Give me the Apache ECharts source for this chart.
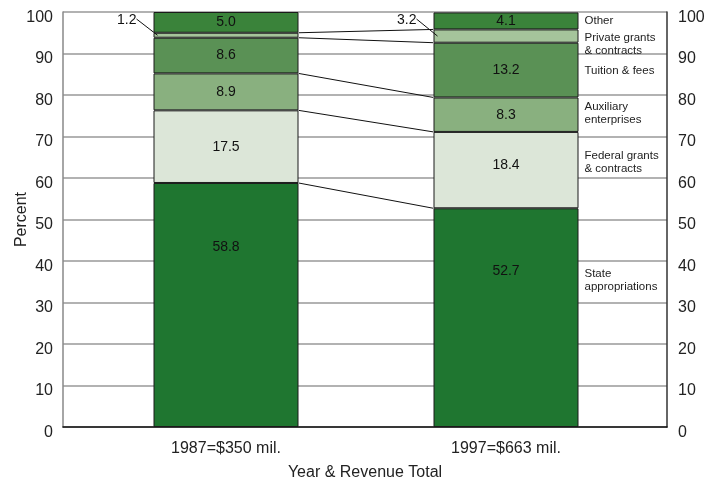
<!DOCTYPE html>
<html>
<head>
<meta charset="utf-8">
<script src="https://cdn.jsdelivr.net/npm/echarts@6/dist/echarts.min.js"></script>
<style>html,body{margin:0;padding:0;background:#fff}#c{width:704px;height:479px}</style>
</head>
<body>
<div id="c"></div>
<script>
const categories = ['1987=$350 mil.', '1997=$663 mil.'];
const seriesNames = ['State appropriations', 'Federal grants & contracts', 'Auxiliary enterprises', 'Tuition & fees', 'Private grants & contracts', 'Other'];
const stateAppropriations = [58.8, 52.7];
const federalGrants = [17.5, 18.4];
const auxiliaryEnterprises = [8.9, 8.3];
const tuitionFees = [8.6, 13.2];
const privateGrants = [1.2, 3.2];
const otherRevenue = [5.0, 4.1];
const sideLabels = ['State\nappropriations', 'Federal grants\n& contracts', 'Auxiliary\nenterprises', 'Tuition & fees', 'Private grants\n& contracts', 'Other'];
const yTickValues = [0, 10, 20, 30, 40, 50, 60, 70, 80, 90, 100];

const allSeries = [stateAppropriations, federalGrants, auxiliaryEnterprises, tuitionFees, privateGrants, otherRevenue];
const colors = ['#1f7630', '#dce6d8', '#89b07f', '#5a9155', '#a5c49b', '#3a833a'];
// layout: vertical anchors (percent scale) for right-hand labels
const sideLabelAnchor = [35.3, 63.8, 75.7, 85.8, 92.3, 97.9];
// layout: label anchors that are not at the segment middle  [series, category, level]
const labelAnchorOverride = [[0, 0, 43.4], [0, 1, 37.6], [1, 1, 63.0]];
const smallSeriesIndex = 4;

const FONT = "'Liberation Sans', Arial, sans-serif";
const BAR_W = 145;

const chart = echarts.init(document.getElementById('c'), null, {renderer: 'canvas'});

function makeSeries(offsets) {
  return allSeries.map((vals, i) => ({
    name: seriesNames[i],
    type: 'bar',
    xAxisIndex: 1,
    yAxisIndex: 2,
    stack: 'rev',
    barWidth: BAR_W,
    data: vals.map((v, ci) => {
      const off = offsets && offsets[i + '-' + ci];
      return off ? {value: v, label: {offset: [0, off]}} : v;
    }),
    itemStyle: {color: colors[i], borderColor: '#1a1a1a', borderWidth: 1},
    label: {
      show: i !== smallSeriesIndex,
      position: 'inside',
      formatter: p => p.value.toFixed(1),
      color: '#111',
      fontFamily: FONT,
      fontSize: 14
    },
    emphasis: {disabled: true},
    silent: true
  }));
}

const tickLabel = {fontFamily: FONT, fontSize: 16, color: '#222', verticalAlign: 'top',
  lineHeight: 11, formatter: v => yTickValues.includes(v) ? String(v) : ''};

chart.setOption({
  animation: false,
  backgroundColor: '#fff',
  grid: [
    {left: 63, right: 37, top: 12, bottom: 52, outerBoundsMode: 'none', containLabel: false},
    {left: 86, right: 58, top: 12, bottom: 52, outerBoundsMode: 'none', containLabel: false}
  ],
  xAxis: [
    {
      gridIndex: 0, type: 'value', min: 0, max: 1,
      axisLine: {show: true, lineStyle: {color: '#111', width: 1.5}},
      axisTick: {show: false}, axisLabel: {show: false}, splitLine: {show: false},
      name: 'Year & Revenue Total', nameLocation: 'middle', nameGap: 38, nameMoveOverlap: false,
      nameTextStyle: {fontFamily: FONT, fontSize: 16, color: '#222'}
    },
    {
      gridIndex: 1, type: 'category', data: categories,
      axisLine: {show: false}, axisTick: {show: false},
      axisLabel: {fontFamily: FONT, fontSize: 16, color: '#222', margin: 14}
    }
  ],
  yAxis: [
    {
      gridIndex: 0, type: 'value', min: 0, max: 100, interval: 10, position: 'left',
      axisLine: {show: true, lineStyle: {color: '#888', width: 1.5}},
      axisTick: {show: false},
      axisLabel: Object.assign({margin: 10}, tickLabel),
      splitLine: {show: true, lineStyle: {color: '#999', width: 1.5}},
      name: 'Percent', nameLocation: 'middle', nameGap: 33, nameRotate: 90, nameMoveOverlap: false,
      nameTextStyle: {fontFamily: FONT, fontSize: 16, color: '#222'}
    },
    {
      gridIndex: 0, type: 'value', min: 0, max: 100, interval: 10, position: 'right',
      axisLine: {show: true, lineStyle: {color: '#333', width: 1.5}},
      axisTick: {show: false},
      axisLabel: Object.assign({margin: 11}, tickLabel),
      splitLine: {show: false}
    },
    {gridIndex: 1, type: 'value', min: 0, max: 100, show: false}
  ],
  series: makeSeries(null)
});

function drawExtras() {
  const px = (ci, v) => chart.convertToPixel({xAxisIndex: 1, yAxisIndex: 2}, [ci, v]);
  const cum = categories.map((_, ci) => {
    const arr = [0];
    allSeries.forEach(s => arr.push(arr[arr.length - 1] + s[ci]));
    return arr;
  });
  // label offsets for the labels that sit away from the segment middle
  const offsets = {};
  labelAnchorOverride.forEach(([si, ci, level]) => {
    const mid = cum[ci][si] + allSeries[si][ci] / 2;
    offsets[si + '-' + ci] = px(ci, level)[1] - px(ci, mid)[1];
  });
  const elements = [];
  // connectors between the tops of matching segments
  for (let k = 1; k < allSeries.length; k++) {
    const a = px(0, cum[0][k]);
    const b = px(1, cum[1][k]);
    elements.push({
      type: 'line', z: 100,
      shape: {x1: a[0] + BAR_W / 2, y1: a[1], x2: b[0] - BAR_W / 2, y2: b[1]},
      style: {stroke: '#111', lineWidth: 1}
    });
  }
  // leader labels for the small (private) segment
  categories.forEach((_, ci) => {
    const mid = px(ci, cum[ci][smallSeriesIndex] + privateGrants[ci] / 2);
    const left = mid[0] - BAR_W / 2;
    const y0 = px(ci, 100)[1];
    elements.push({
      type: 'line', z: 100,
      shape: {x1: left - 17, y1: y0 + 7, x2: left + 4, y2: mid[1]},
      style: {stroke: '#111', lineWidth: 1}
    });
    elements.push({
      type: 'text', z: 100,
      x: left - 17, y: y0 + 8,
      style: {text: privateGrants[ci].toFixed(1), fill: '#111', font: '14px ' + FONT,
        align: 'right', verticalAlign: 'middle'}
    });
  });
  // right-hand series labels
  const rightEdge = px(1, 0)[0] + BAR_W / 2;
  sideLabels.forEach((t, i) => {
    const y = px(1, sideLabelAnchor[i])[1];
    elements.push({
      type: 'text', z: 100,
      x: rightEdge + 6, y: y,
      style: {text: t, fill: '#222', font: '11.5px ' + FONT, lineHeight: 13,
        align: 'left', verticalAlign: 'middle'}
    });
  });
  chart.setOption({series: makeSeries(offsets), graphic: {elements: elements}});
}
drawExtras();
</script>
</body>
</html>
